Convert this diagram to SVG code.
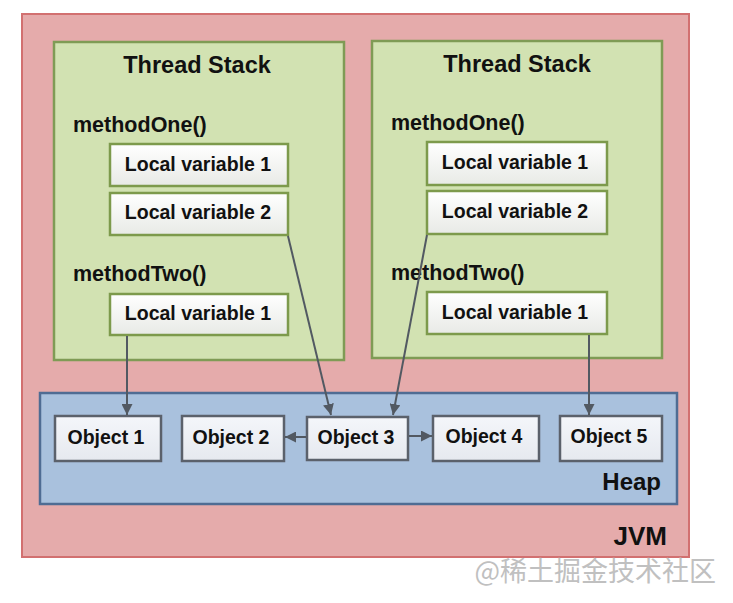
<svg xmlns="http://www.w3.org/2000/svg" width="733" height="603" viewBox="0 0 733 603">
<defs>
<linearGradient id="lv" x1="0" y1="0" x2="0" y2="1"><stop offset="0" stop-color="#ffffff"/><stop offset="1" stop-color="#e8eae6"/></linearGradient>
<linearGradient id="ob" x1="0" y1="0" x2="0" y2="1"><stop offset="0" stop-color="#f4f6fa"/><stop offset="1" stop-color="#e6e9ef"/></linearGradient>
<marker id="ah" viewBox="0 0 10 10" refX="10" refY="5" markerWidth="11" markerHeight="11" markerUnits="userSpaceOnUse" orient="auto"><path d="M0,0 L10,5 L0,10 Z" fill="#525962"/></marker>
</defs>
<style>
.t{font-family:"Liberation Sans",Arial,sans-serif;font-weight:bold;fill:#111;}
.title{font-size:23.5px;}
.m{font-size:21.5px;}
.lvt{font-size:19.5px;}
.lv{fill:url(#lv);stroke:#7d9a4c;stroke-width:2.5;}
.ob{fill:url(#ob);stroke:#5b616b;stroke-width:2.5;}
.ts{fill:#d2e2b2;stroke:#7f9b55;stroke-width:2.5;}
.c{stroke:#525962;stroke-width:2;fill:none;marker-end:url(#ah);}
</style>
<rect width="733" height="603" fill="#ffffff"/>
<g id="jvm">
<rect x="22" y="14" width="667" height="543" fill="#e5abab" stroke="#d27070" stroke-width="2"/>
<text class="t" x="667" y="545" text-anchor="end" font-size="26">JVM</text>
</g>
<g id="stack1">
<rect class="ts" x="54" y="42" width="290" height="318"/>
<text class="t title" x="197" y="73" text-anchor="middle">Thread Stack</text>
<text class="t m" x="73" y="132">methodOne()</text>
<text class="t m" x="73" y="281">methodTwo()</text>
</g>
<g id="s1lv1"><rect class="lv" x="110" y="144" width="178" height="42"/><text class="t lvt" x="198" y="171" text-anchor="middle">Local variable 1</text></g>
<g id="s1lv2"><rect class="lv" x="110" y="193" width="178" height="42"/><text class="t lvt" x="198" y="219" text-anchor="middle">Local variable 2</text></g>
<g id="s1m2lv1"><rect class="lv" x="110" y="294" width="178" height="41"/><text class="t lvt" x="198" y="320" text-anchor="middle">Local variable 1</text></g>
<g id="stack2">
<rect class="ts" x="372" y="41" width="290" height="317"/>
<text class="t title" x="517" y="72" text-anchor="middle">Thread Stack</text>
<text class="t m" x="391" y="130">methodOne()</text>
<text class="t m" x="391" y="280">methodTwo()</text>
</g>
<g id="s2lv1"><rect class="lv" x="427" y="142" width="180" height="43"/><text class="t lvt" x="515" y="169" text-anchor="middle">Local variable 1</text></g>
<g id="s2lv2"><rect class="lv" x="427" y="191" width="180" height="43"/><text class="t lvt" x="515" y="218" text-anchor="middle">Local variable 2</text></g>
<g id="s2m2lv1"><rect class="lv" x="427" y="292" width="180" height="42"/><text class="t lvt" x="515" y="319" text-anchor="middle">Local variable 1</text></g>
<g id="heap">
<rect x="40" y="393" width="637" height="111" fill="#a9c1dd" stroke="#4f6c93" stroke-width="2.5"/>
<text class="t" x="661" y="490" text-anchor="end" font-size="24">Heap</text>
</g>
<g id="obj1"><rect class="ob" x="55" y="416" width="106" height="45"/><text class="t lvt" x="106" y="444" text-anchor="middle">Object 1</text></g>
<g id="obj2"><rect class="ob" x="182" y="416" width="102" height="45"/><text class="t lvt" x="231" y="444" text-anchor="middle">Object 2</text></g>
<g id="obj3"><rect class="ob" x="307" y="417" width="101" height="43"/><text class="t lvt" x="356" y="444" text-anchor="middle">Object 3</text></g>
<g id="obj4"><rect class="ob" x="433" y="416" width="106" height="45"/><text class="t lvt" x="484" y="443" text-anchor="middle">Object 4</text></g>
<g id="obj5"><rect class="ob" x="560" y="416" width="102" height="45"/><text class="t lvt" x="609" y="443" text-anchor="middle">Object 5</text></g>
<g id="connectors">
<line class="c" x1="127" y1="336" x2="127" y2="415"/>
<line class="c" x1="288" y1="236" x2="331" y2="415"/>
<line class="c" x1="427" y1="235" x2="393" y2="415"/>
<line class="c" x1="589" y1="335" x2="589" y2="415"/>
<line class="c" x1="306" y1="437" x2="285" y2="437"/>
<line class="c" x1="409" y1="436" x2="432" y2="436"/>
</g>
<text x="716" y="581" text-anchor="end" font-family="'Noto Sans CJK SC',sans-serif" font-size="27" fill="#c0c0c0">@稀土掘金技术社区</text>
</svg>
